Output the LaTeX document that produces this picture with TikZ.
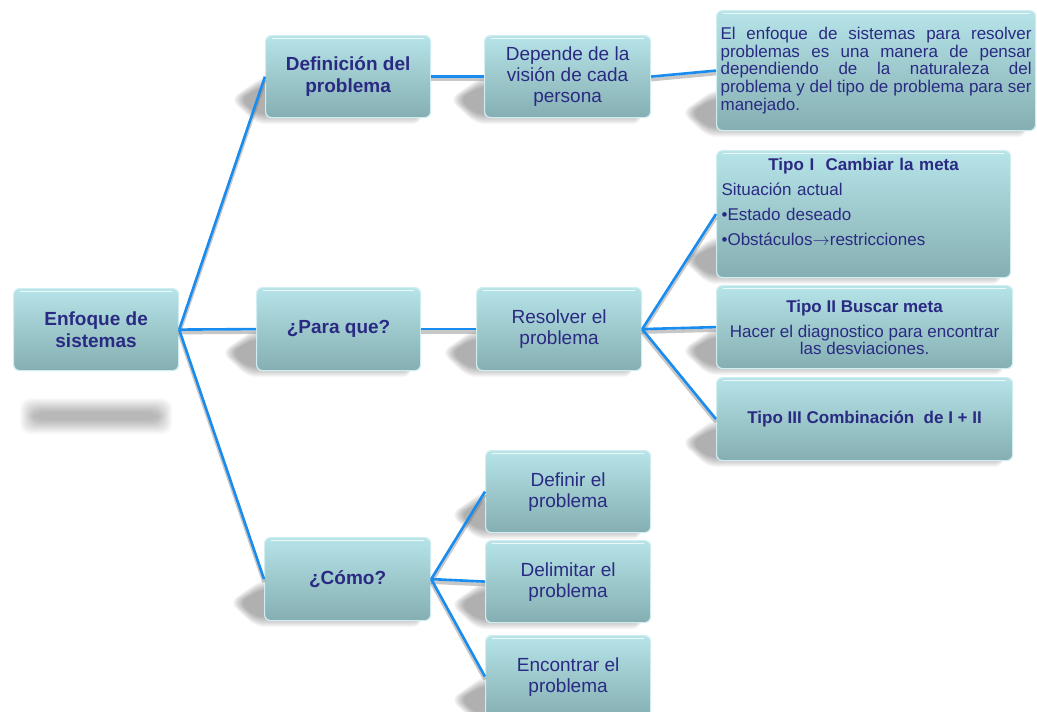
\documentclass[tikz,border=0pt]{standalone}
\usepackage{fontspec}
\setmainfont{Liberation Sans}
\usetikzlibrary{backgrounds}

\definecolor{boxtop}{RGB}{182,228,232}
\definecolor{boxbot}{RGB}{132,174,178}
\definecolor{boxedge}{RGB}{208,238,241}
\definecolor{ink}{RGB}{42,42,130}
\definecolor{wireblue}{RGB}{25,140,240}

\pgfdeclarelayer{paper}
\pgfsetlayers{paper,background,main}

\begin{document}
\begin{tikzpicture}[x=1pt,y=-1pt,
  card/.style={rounded corners=6pt, draw=boxedge, line width=1.2pt,
    top color=boxtop, bottom color=boxbot, text=ink, anchor=north west,
    inner sep=0pt, align=center,
    path picture={\draw[white, opacity=0.75, line width=1.6pt, line cap=round]
      ([xshift=7pt,yshift=-3pt]path picture bounding box.north west) --
      ([xshift=-7pt,yshift=-3pt]path picture bounding box.north east);}},
  mainbox/.style={card, minimum width=165pt, minimum height=82pt,
    font=\fontsize{19}{21}\selectfont},
  mainboxb/.style={mainbox, font=\fontsize{19}{22}\selectfont\bfseries},
  wire/.style={draw=wireblue, line width=2.6pt},
  wireshade/.style={draw=black!55, opacity=0.4, line width=3.6pt},
  shadowlayer/.style={fill=black, opacity=0.032, rounded corners=9pt}
]
\clip (0,0) rectangle (1037,712);
\begin{pgfonlayer}{paper}
  \fill[white] (0,0) rectangle (1037,712);
\end{pgfonlayer}

% first column
\node[mainboxb] (enf) at (13,288) {Enfoque de\\sistemas};

% second column
\node[mainboxb] (def) at (265,35) {Definición del\\problema};
\node[mainboxb, minimum width=164pt, minimum height=83pt] (para) at (256,287) {¿Para que?};
\node[mainboxb, minimum width=166pt, minimum height=83pt] (como) at (264,537) {¿Cómo?};

% third column
\node[mainbox, minimum width=166pt] (dep) at (484,35) {Depende de la\\visión de cada\\persona};
\node[mainbox, minimum height=83pt] (res) at (476,287) {Resolver el\\problema};
\node[mainbox] (dfn) at (485,450) {Definir el\\problema};
\node[mainbox] (dlm) at (485,540) {Delimitar el\\problema};
\node[mainbox] (enc) at (485,635) {Encontrar el\\problema};

% fourth column
\node[card, minimum width=319pt, minimum height=120pt, text width=311pt,
  align=justify, font=\fontsize{17}{17.8}\selectfont] (txt) at (716,10)
  {\hyphenpenalty=10000
   El enfoque de sistemas para resolver\linebreak
   problemas es una manera de pensar\linebreak
   dependiendo de la naturaleza del\linebreak
   problema y del tipo de problema para ser\linebreak
   manejado.};

\node[card, minimum width=294pt, minimum height=127pt, text width=284pt,
  align=left, font=\fontsize{17}{25}\selectfont] (t1) at (716,150)
  {{\centering\bfseries Tipo I\ \ Cambiar la meta\par}
   Situación actual\par
   \textbullet Estado deseado\par
   \textbullet Obstáculos\ensuremath{\rightarrow}restricciones\par
   \mbox{}};

\node[card, minimum width=296pt, minimum height=83pt,
  font=\fontsize{17}{17}\selectfont] (t2) at (716,285)
  {\textbf{Tipo II Buscar meta}\\[8pt]
   Hacer el diagnostico para encontrar\\las desviaciones.};

\node[card, minimum width=296pt, minimum height=83pt,
  font=\fontsize{17}{20}\selectfont\bfseries] (t3) at (716,377)
  {Tipo III Combinación\ \ de I + II};

% soft shadows, built from stacked translucent layers
\begin{pgfonlayer}{background}
  % the one lying under the root box
  \foreach \k in {0,...,14}{
    \pgfmathsetmacro\e{11-\k}
    \fill[shadowlayer, opacity=0.02, rounded corners=10pt]
      ([xshift=18pt-\e pt,yshift=-38pt+\e pt]enf.south west)
      rectangle ([xshift=-18pt+\e pt,yshift=-52pt-\e pt]enf.south east);
  }
  % the wedges cast to the lower left of the other boxes
  \foreach \n in {def,para,como,dep,res,dfn,dlm,enc,txt,t1,t2,t3}{
    \foreach \k in {0,...,10}{
      \pgfmathsetmacro\e{8-\k}
      \fill[shadowlayer]
        ([xshift=-2pt,yshift=34pt+\e pt]\n.south west) --
        ([xshift=-27pt-\e pt,yshift=19pt]\n.south west) --
        ([xshift=-8pt,yshift=2pt-\e pt]\n.south west) --
        ([xshift=-10pt,yshift=2pt-\e pt]\n.south east) --
        ([xshift=-10pt,yshift=34pt+\e pt]\n.south east) -- cycle;
    }
  }
\end{pgfonlayer}

% connectors: grey shade first, blue line on top
\foreach \a/\b in {enf/def,enf/para,enf/como,def/dep,dep/txt,para/res,
                   res/t1,res/t2,res/t3,como/dfn,como/dlm,como/enc}{
  \draw[wireshade] ([yshift=-3pt]\a.east) -- ([yshift=-3pt]\b.west);
}
\foreach \a/\b in {enf/def,enf/para,enf/como,def/dep,dep/txt,para/res,
                   res/t1,res/t2,res/t3,como/dfn,como/dlm,como/enc}{
  \draw[wire] (\a.east) -- (\b.west);
}
\end{tikzpicture}
\end{document}
